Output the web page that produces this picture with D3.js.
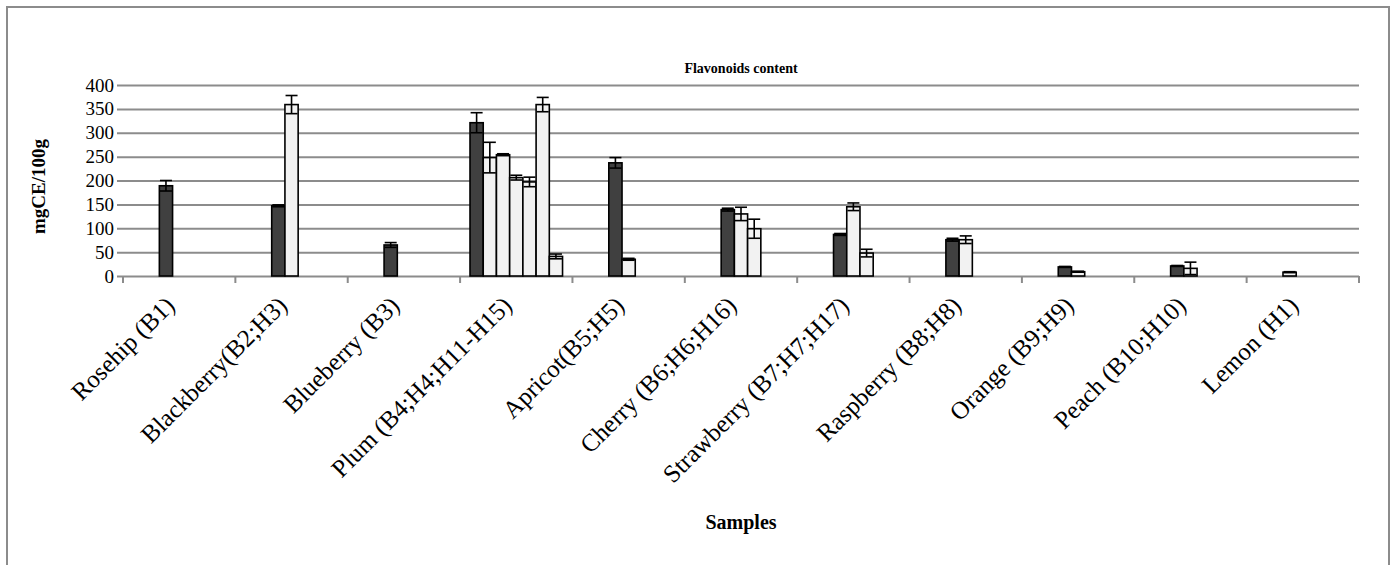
<!DOCTYPE html>
<html>
<head>
<meta charset="utf-8">
<script src="https://cdn.jsdelivr.net/npm/d3@7"></script>
<style>
  html, body { margin: 0; padding: 0; background: #fff; }
  svg { display: block; }
  text { font-family: "Liberation Serif", "Times New Roman", serif; fill: #000; }
</style>
</head>
<body>
<svg id="chart" width="1392" height="565"></svg>
<script>
// Fruit samples along the x axis
const categories = [
  "Rosehip (B1)", "Blackberry(B2;H3)", "Blueberry (B3)", "Plum (B4;H4;H11-H15)",
  "Apricot(B5;H5)", "Cherry (B6;H6;H16)", "Strawberry (B7;H7;H17)",
  "Raspberry (B8;H8)", "Orange (B9;H9)", "Peach (B10;H10)", "Lemon (H1)"
];

// Flavonoid content per sample (mgCE/100g), one entry per bar within each fruit
const flavonoids = [
  [189],
  [147, 359],
  [65],
  [321, 248, 254, 206, 197, 359, 41],
  [237, 35],
  [139, 130, 99],
  [87, 145, 48],
  [76, 76],
  [19, 9],
  [21, 16],
  [8]
];

// Standard deviations shown as error bars
const deviations = [
  [11],
  [2, 19],
  [5],
  [21, 32, 2, 5, 10, 15, 5],
  [11, 2],
  [3, 14, 20],
  [2, 8, 8],
  [3, 8],
  [1, 1],
  [1, 13],
  [1]
];

// Sample origin: "B" samples are drawn dark, "H" samples light
const origins = [
  ["B"],
  ["B", "H"],
  ["B"],
  ["B", "H", "H", "H", "H", "H", "H"],
  ["B", "H"],
  ["B", "H", "H"],
  ["B", "H", "H"],
  ["B", "H"],
  ["B", "H"],
  ["B", "H"],
  ["H"]
];

// Series slot where each fruit's first bar sits
const firstSlot = [2, 2, 2, 0, 2, 2, 2, 2, 2, 2, 2];

const yTicks = [0, 50, 100, 150, 200, 250, 300, 350, 400];

const svg = d3.select("#chart");
const plot = { left: 123, right: 1359, top: 85, bottom: 276 };

// Outer chart border
svg.append("rect")
  .attr("x", 7).attr("y", 7)
  .attr("width", 1382).attr("height", 580)
  .attr("fill", "#fff")
  .attr("stroke", "#8c8c8c")
  .attr("stroke-width", 2);

const x = d3.scaleBand()
  .domain(categories)
  .range([plot.left, plot.right])
  .padding(0);

const nSlots = 7;
const gapRatio = 1.5;
const barW = x.bandwidth() / (nSlots + gapRatio);
const slot = d3.scaleLinear()
  .domain([0, nSlots])
  .range([barW * gapRatio / 2, barW * gapRatio / 2 + barW * nSlots]);

const y = d3.scaleLinear().domain([0, 400]).range([plot.bottom, plot.top]);

// Horizontal gridlines with left tick stubs
const yAxis = d3.axisLeft(y)
  .tickValues(yTicks)
  .tickSize(0)
  .tickPadding(6)
  .tickFormat(d3.format("d"));

const gy = svg.append("g")
  .attr("transform", `translate(${plot.left - 6},0)`)
  .call(yAxis);
gy.select(".domain").remove();
gy.selectAll(".tick line")
  .attr("x1", 0)
  .attr("x2", plot.right - plot.left + 6)
  .attr("stroke", "#8c8c8c")
  .attr("stroke-width", 2);
gy.selectAll(".tick text")
  .attr("font-size", 19)
  .attr("font-family", "Liberation Serif, serif")
  .attr("x", -3);

// Category boundary ticks under the baseline
const boundaries = categories.map(c => x(c)).concat([plot.right]);
svg.append("g")
  .selectAll("line")
  .data(boundaries)
  .join("line")
  .attr("x1", d => d).attr("x2", d => d)
  .attr("y1", plot.bottom).attr("y2", plot.bottom + 7)
  .attr("stroke", "#8c8c8c")
  .attr("stroke-width", 2);

// Flatten bars
const bars = [];
categories.forEach((c, i) => {
  flavonoids[i].forEach((v, j) => {
    bars.push({
      cat: c,
      slot: firstSlot[i] + j,
      value: v,
      err: deviations[i][j],
      origin: origins[i][j]
    });
  });
});

const fillFor = { B: "#404040", H: "#f2f2f2" };

svg.append("g")
  .selectAll("rect")
  .data(bars)
  .join("rect")
  .attr("x", d => x(d.cat) + slot(d.slot))
  .attr("y", d => y(d.value))
  .attr("width", barW)
  .attr("height", d => y(0) - y(d.value))
  .attr("fill", d => fillFor[d.origin])
  .attr("stroke", "#000")
  .attr("stroke-width", 1.6);

// Error bars
const capHalf = 6;
const eg = svg.append("g").attr("stroke", "#000").attr("stroke-width", 1.6);
bars.forEach(d => {
  const cx = x(d.cat) + slot(d.slot) + barW / 2;
  const yHi = y(d.value + d.err), yLo = y(Math.max(0, d.value - d.err));
  eg.append("line").attr("x1", cx).attr("x2", cx).attr("y1", yHi).attr("y2", yLo);
  eg.append("line").attr("x1", cx - capHalf).attr("x2", cx + capHalf).attr("y1", yHi).attr("y2", yHi);
  eg.append("line").attr("x1", cx - capHalf).attr("x2", cx + capHalf).attr("y1", yLo).attr("y2", yLo);
});

// Rotated category labels
svg.append("g")
  .selectAll("text")
  .data(categories)
  .join("text")
  .attr("transform", d => `translate(${x(d) + x.bandwidth() / 2 - 3},${plot.bottom + 31}) rotate(-45)`)
  .attr("text-anchor", "end")
  .attr("font-size", 25)
  .text(d => d);

// Title
svg.append("text")
  .attr("x", 741).attr("y", 73)
  .attr("text-anchor", "middle")
  .attr("font-size", 14)
  .attr("font-weight", "bold")
  .text("Flavonoids content");

// Axis titles
svg.append("text")
  .attr("transform", `translate(45,${(plot.top + plot.bottom) / 2 + 6}) rotate(-90)`)
  .attr("text-anchor", "middle")
  .attr("font-size", 19)
  .attr("font-weight", "bold")
  .text("mgCE/100g");

svg.append("text")
  .attr("x", 741).attr("y", 529)
  .attr("text-anchor", "middle")
  .attr("font-size", 20)
  .attr("font-weight", "bold")
  .text("Samples");
</script>
</body>
</html>
